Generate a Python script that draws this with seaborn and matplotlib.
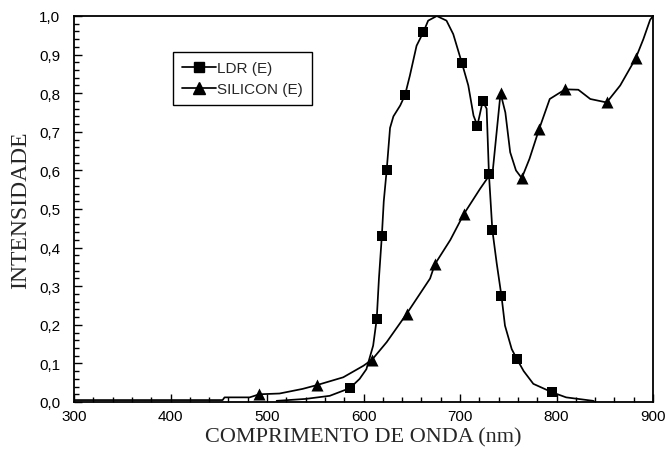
import numpy as np
import pandas as pd
import seaborn as sns
import matplotlib.pyplot as plt
from matplotlib.lines import Line2D
from matplotlib.ticker import MultipleLocator, FuncFormatter

# curva LDR (E)
ldr_nm = [510, 540, 565, 586, 596, 603, 610, 613.7, 616, 619, 621, 624, 627.5, 631,
          638, 643, 648, 655, 662, 667, 676, 686, 693, 702, 708.6, 714, 718, 723.5,
          727.6, 730, 733.5, 738, 743, 746.6, 753.6, 759, 766, 776, 795.6, 810, 838, 840]
ldr_val = [0.003, 0.008, 0.016, 0.036, 0.06, 0.085, 0.146, 0.215, 0.32, 0.43, 0.52, 0.60,
           0.71, 0.74, 0.768, 0.795, 0.845, 0.923, 0.958, 0.988, 1.0, 0.988, 0.953, 0.878,
           0.82, 0.742, 0.716, 0.779, 0.76, 0.59, 0.446, 0.36, 0.274, 0.198, 0.137, 0.111,
           0.08, 0.047, 0.025, 0.012, 0.003, 0.0]
# marcadores LDR
ldr_mk_nm = [586, 613.7, 619, 624, 643, 662, 702, 718, 723.5, 730, 733.5, 743, 759, 795.6]
ldr_mk_val = [0.036, 0.215, 0.43, 0.60, 0.795, 0.958, 0.878, 0.716, 0.779, 0.59, 0.446,
              0.274, 0.111, 0.025]

# curva SILICON (E)
si_nm = [300, 454, 456, 482, 492, 513, 537, 552, 579, 600, 609, 624, 644.6, 669, 674,
         690, 704, 720.7, 734, 738, 742, 747, 752, 758, 764, 772, 782, 793, 809, 822.6,
         835, 852, 866, 882, 890, 897, 900]
si_val = [0.005, 0.005, 0.012, 0.012, 0.02, 0.022, 0.034, 0.044, 0.064, 0.094, 0.11,
          0.155, 0.228, 0.32, 0.357, 0.42, 0.487, 0.552, 0.60, 0.70, 0.80, 0.75, 0.647,
          0.60, 0.58, 0.63, 0.707, 0.785, 0.81, 0.809, 0.785, 0.776, 0.82, 0.89, 0.94,
          0.99, 1.0]
# marcadores SILICON
si_mk_nm = [492, 552, 609, 644.6, 674, 704, 742, 764, 782, 809, 852, 882]
si_mk_val = [0.02, 0.044, 0.11, 0.228, 0.357, 0.487, 0.80, 0.58, 0.707, 0.81, 0.776, 0.89]

sns.set_style("ticks")
plt.rcParams["font.family"] = ["Liberation Sans", "DejaVu Sans"]

fig, ax = plt.subplots(figsize=(6.66, 4.64), dpi=100)
fig.subplots_adjust(left=74/666, right=653/666, bottom=1-403/464, top=1-17/464)

ldr = pd.DataFrame({"nm": ldr_nm, "val": ldr_val})
si = pd.DataFrame({"nm": si_nm, "val": si_val})
sns.lineplot(data=ldr, x="nm", y="val", color="black", lw=1.25, ax=ax, sort=False)
sns.lineplot(data=si, x="nm", y="val", color="black", lw=1.25, ax=ax, sort=False)
sns.scatterplot(x=ldr_mk_nm, y=ldr_mk_val, marker="s", s=55, color="black",
                edgecolor="black", linewidth=0, ax=ax, zorder=3)
sns.scatterplot(x=si_mk_nm, y=si_mk_val, marker="^", s=75, color="black",
                edgecolor="black", linewidth=0, ax=ax, zorder=3)

ax.set_xlim(300, 900)
ax.set_ylim(0, 1.0)
ax.xaxis.set_major_locator(MultipleLocator(100))
ax.xaxis.set_minor_locator(MultipleLocator(20))
ax.yaxis.set_major_locator(MultipleLocator(0.1))
ax.yaxis.set_minor_locator(MultipleLocator(0.02))
ax.yaxis.set_major_formatter(FuncFormatter(lambda v, p: f"{v:.1f}".replace(".", ",")))
ax.tick_params(which="both", direction="in", top=False, right=False, colors="black",
               labelsize=11, width=1)
ax.tick_params(which="major", length=6)
ax.tick_params(which="minor", length=3.5)
ax.tick_params(axis="x", which="major", pad=5)
ax.tick_params(axis="y", which="major", pad=10)
for s in ax.spines.values():
    s.set_linewidth(1.3)
    s.set_color("black")

ax.set_xlabel("COMPRIMENTO DE ONDA (nm)", family="Liberation Serif", fontsize=16, labelpad=3)
ax.set_ylabel("INTENSIDADE", family="Liberation Serif", fontsize=17, labelpad=6)

handles = [Line2D([], [], color="black", lw=1.25, marker="s", markersize=7),
           Line2D([], [], color="black", lw=1.25, marker="^", markersize=8)]
leg = ax.legend(handles, ["LDR (E)", "SILICON (E)"], loc="upper left",
                bbox_to_anchor=((173-74)/579, 1-(53-17)/386), fancybox=False,
                framealpha=1, edgecolor="black", fontsize=11, handlelength=2.2,
                handletextpad=0.1, borderpad=0.6, labelspacing=0.45, borderaxespad=0)
leg.get_frame().set_linewidth(1.0)

fig.savefig("out.png", dpi=100)
